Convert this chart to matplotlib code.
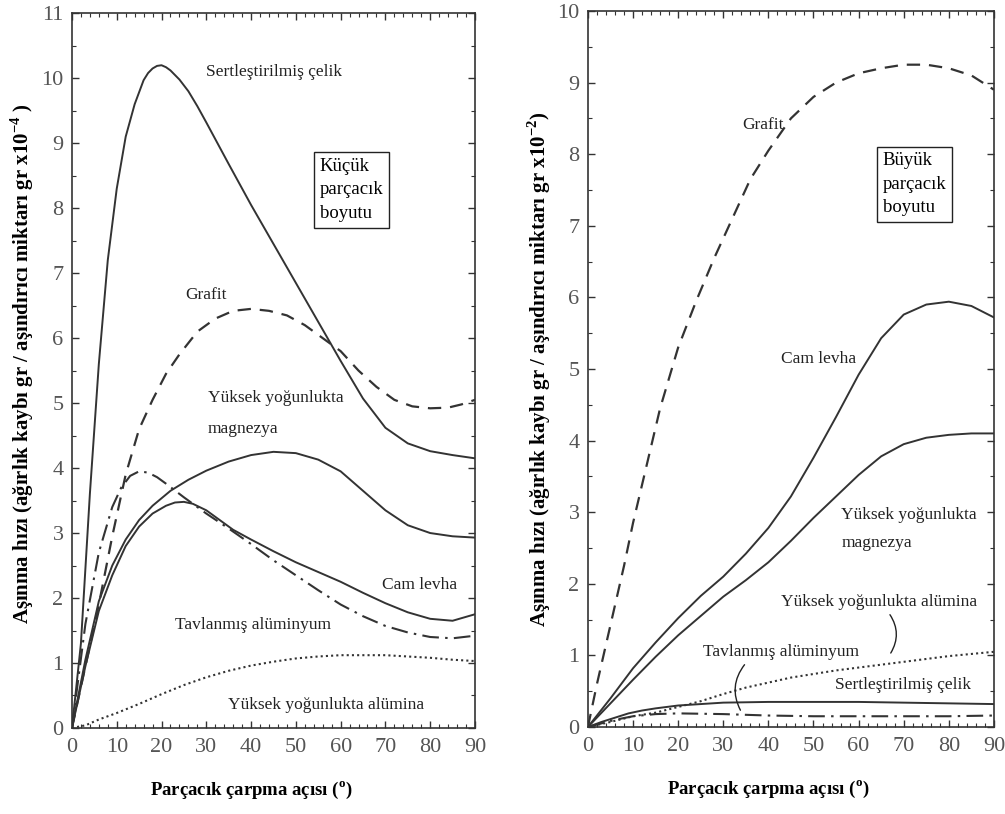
import numpy as np
import matplotlib.pyplot as plt
from matplotlib.ticker import MultipleLocator

plt.rcParams['font.family'] = ['Liberation Serif', 'DejaVu Serif']
plt.rcParams['mathtext.fontset'] = 'custom'
plt.rcParams['mathtext.rm'] = 'Liberation Serif'
plt.rcParams['mathtext.bf'] = 'Liberation Serif:bold'

# --- small particles (x10^-4) ---
cel_x = [0, 2, 4, 6, 8, 10, 12, 14, 16, 17, 18, 19, 20, 21, 22, 24, 26, 28, 30, 35, 40, 45, 50,
         55, 60, 65, 70, 75, 80, 85, 90]
cel_y = [0, 1.3, 3.6, 5.6, 7.2, 8.3, 9.1, 9.6, 9.97, 10.08, 10.15, 10.19, 10.2, 10.17, 10.12,
         9.98, 9.8, 9.57, 9.32, 8.68, 8.05, 7.45, 6.85, 6.25, 5.65, 5.07, 4.62, 4.38, 4.26, 4.2, 4.15]
gra_x = [0, 3, 6, 9, 12, 15, 18, 21, 24, 28, 32, 36, 40, 44, 48, 52, 56, 60, 64, 68, 72, 76, 80, 84, 87, 90]
gra_y = [0, 0.95, 1.9, 2.95, 3.9, 4.6, 5.05, 5.45, 5.75, 6.1, 6.3, 6.42, 6.45, 6.42, 6.35, 6.2, 6.0,
         5.8, 5.5, 5.25, 5.05, 4.95, 4.92, 4.93, 4.98, 5.05]
mag_x = [0, 3, 6, 9, 12, 15, 18, 22, 26, 30, 35, 40, 45, 50, 55, 60, 65, 70, 75, 80, 85, 90]
mag_y = [0, 1.05, 1.95, 2.5, 2.9, 3.2, 3.42, 3.65, 3.82, 3.96, 4.1, 4.2, 4.25, 4.23, 4.13, 3.95,
         3.65, 3.35, 3.12, 3.0, 2.95, 2.93]
cam_x = [0, 3, 6, 9, 12, 15, 18, 21, 23, 25, 27, 30, 33, 36, 40, 45, 50, 55, 60, 65, 70, 75, 80, 85, 90]
cam_y = [0, 0.95, 1.8, 2.35, 2.8, 3.1, 3.3, 3.42, 3.47, 3.48, 3.45, 3.35, 3.2, 3.05, 2.9, 2.72,
         2.55, 2.4, 2.25, 2.08, 1.92, 1.78, 1.68, 1.65, 1.75]
alu_x = [0, 3, 6, 9, 11, 13, 15, 17, 19, 21, 25, 30, 35, 40, 45, 50, 55, 60, 65, 70, 75, 80, 85, 90]
alu_y = [0, 1.6, 2.7, 3.4, 3.7, 3.88, 3.95, 3.93, 3.86, 3.76, 3.55, 3.3, 3.07, 2.83, 2.58, 2.35,
         2.12, 1.9, 1.72, 1.57, 1.47, 1.4, 1.38, 1.42]
alm_x = [0, 3, 6, 10, 15, 20, 25, 30, 35, 40, 45, 50, 55, 60, 65, 70, 75, 80, 85, 90]
alm_y = [0, 0.04, 0.13, 0.23, 0.37, 0.52, 0.66, 0.78, 0.88, 0.96, 1.02, 1.07, 1.1, 1.12, 1.12,
         1.12, 1.1, 1.08, 1.05, 1.03]

# --- large particles (x10^-2) ---
gra2_x = [0, 2, 4, 6, 8, 10, 13, 16, 20, 24, 28, 32, 36, 40, 45, 50, 55, 60, 65, 70, 75, 80, 85, 90]
gra2_y = [0, 0.6, 1.15, 1.7, 2.25, 2.85, 3.65, 4.45, 5.3, 5.95, 6.55, 7.1, 7.65, 8.05, 8.5, 8.8,
          9.0, 9.13, 9.2, 9.25, 9.25, 9.2, 9.1, 8.9]
cam2_x = [0, 5, 10, 15, 20, 25, 30, 35, 40, 45, 50, 55, 60, 65, 70, 75, 80, 85, 90]
cam2_y = [0, 0.4, 0.82, 1.18, 1.52, 1.83, 2.1, 2.42, 2.78, 3.22, 3.76, 4.33, 4.92, 5.43, 5.76,
          5.9, 5.94, 5.88, 5.72]
mag2_x = [0, 5, 10, 15, 20, 25, 30, 35, 40, 45, 50, 55, 60, 65, 70, 75, 80, 85, 90]
mag2_y = [0, 0.33, 0.66, 0.98, 1.28, 1.55, 1.82, 2.05, 2.3, 2.6, 2.92, 3.22, 3.52, 3.78, 3.95,
          4.04, 4.08, 4.1, 4.1]
alm2_x = [0, 5, 10, 15, 20, 25, 30, 35, 40, 45, 50, 55, 60, 65, 70, 75, 80, 85, 90]
alm2_y = [0, 0.07, 0.15, 0.2, 0.28, 0.36, 0.46, 0.55, 0.62, 0.69, 0.74, 0.79, 0.83, 0.87, 0.91,
          0.95, 0.99, 1.02, 1.05]
cel2_x = [0, 3, 6, 9, 12, 15, 20, 25, 30, 40, 50, 60, 70, 80, 90]
cel2_y = [0, 0.07, 0.13, 0.19, 0.23, 0.26, 0.3, 0.32, 0.34, 0.35, 0.35, 0.35, 0.34, 0.33, 0.32]
alu2_x = [0, 3, 6, 10, 15, 20, 30, 40, 50, 60, 70, 80, 90]
alu2_y = [0, 0.05, 0.1, 0.15, 0.18, 0.19, 0.18, 0.16, 0.15, 0.15, 0.15, 0.15, 0.16]

LC = '#333333'
SOLID = dict(color=LC, lw=1.4)
DASH = dict(color=LC, lw=1.6, linestyle=(0, (6, 4)))
DASHDOT = dict(color=LC, lw=1.5, linestyle=(0, (8, 3, 1.2, 3)))
DOT = dict(color=LC, lw=1.5, linestyle=(0, (1, 1.5)))

fig = plt.figure(figsize=(10.05, 8.14), dpi=100)
ax1 = fig.add_axes([0.0716, 0.1057, 0.401, 0.878])
ax2 = fig.add_axes([0.585, 0.1069, 0.404, 0.8796])

ax1.plot(cel_x, cel_y, **SOLID)
ax1.plot(gra_x, gra_y, **DASH)
ax1.plot(mag_x, mag_y, **SOLID)
ax1.plot(cam_x, cam_y, **SOLID)
ax1.plot(alu_x, alu_y, **DASHDOT)
ax1.plot(alm_x, alm_y, **DOT)

ax2.plot(gra2_x, gra2_y, **DASH)
ax2.plot(cam2_x, cam2_y, **SOLID)
ax2.plot(mag2_x, mag2_y, **SOLID)
ax2.plot(alm2_x, alm2_y, **DOT)
ax2.plot(cel2_x, cel2_y, **SOLID)
ax2.plot(alu2_x, alu2_y, **DASHDOT)

for ax, ymax in ((ax1, 11), (ax2, 10)):
    ax.set_xlim(0, 90)
    ax.set_ylim(0, ymax)
    ax.xaxis.set_major_locator(MultipleLocator(10))
    ax.xaxis.set_minor_locator(MultipleLocator(2))
    ax.yaxis.set_major_locator(MultipleLocator(1))
    ax.yaxis.set_minor_locator(MultipleLocator(0.5))
    ax.tick_params(which='both', direction='in', top=True, right=True, color=LC)
    ax.tick_params(which='major', length=5, width=1)
    ax.tick_params(which='minor', length=3, width=0.8)
    ax.tick_params(axis='x', pad=7, labelsize=16, labelcolor='#555555')
    ax.tick_params(axis='y', pad=6, labelsize=16, labelcolor='#555555')
    for s in ax.spines.values():
        s.set_color(LC)
        s.set_linewidth(1.2)
    ax.set_xlabel(r'Parçacık çarpma açısı ($^{\mathbf{o}}$)', fontsize=13.5, fontweight='bold')
    ax.xaxis.set_label_coords(0.445, -0.072)

ax1.set_ylabel(r'Aşınma hızı (ağırlık kaybı gr / aşındırıcı miktarı gr x10$^{\mathbf{-4}}$ )',
               fontsize=15, fontweight='bold')
ax1.yaxis.set_label_coords(-0.088, 0.51)
ax2.set_ylabel(r'Aşınma hızı (ağırlık kaybı gr / aşındırıcı miktarı gr x10$^{\mathbf{-2}}$)',
               fontsize=15, fontweight='bold')
ax2.yaxis.set_label_coords(-0.085, 0.5)

TXT = dict(fontsize=12.5, color='#222222', va='center', ha='left')
ax1.text(30, 10.1, 'Sertleştirilmiş çelik', **TXT)
ax1.text(25.2, 6.66, 'Grafit', **TXT)
ax1.text(30.4, 5.08, 'Yüksek yoğunlukta', **TXT)
ax1.text(30.4, 4.6, 'magnezya', **TXT)
ax1.text(69.2, 2.2, 'Cam levha', **TXT)
ax1.text(23, 1.58, 'Tavlanmış alüminyum', **TXT)
ax1.text(34.8, 0.35, 'Yüksek yoğunlukta alümina', **TXT)
ax1.text(55.3, 8.28, 'Küçük\nparçacık\nboyutu', fontsize=13.5, va='center', ha='left',
         linespacing=1.5, bbox=dict(boxstyle='square,pad=0.3', fc='white', ec='#222222', lw=1))

ax2.text(34.1, 8.41, 'Grafit', **TXT)
ax2.text(42.9, 5.14, 'Cam levha', **TXT)
ax2.text(56.2, 2.96, 'Yüksek yoğunlukta', **TXT)
ax2.text(56.2, 2.57, 'magnezya', **TXT)
ax2.text(42.9, 1.75, 'Yüksek yoğunlukta alümina', **TXT)
ax2.text(25.6, 1.05, 'Tavlanmış alüminyum', **TXT)
ax2.text(54.8, 0.59, 'Sertleştirilmiş çelik', **TXT)
ax2.text(65.3, 7.58, 'Büyük\nparçacık\nboyutu', fontsize=13.5, va='center', ha='left',
         linespacing=1.5, bbox=dict(boxstyle='square,pad=0.3', fc='white', ec='#222222', lw=1))

# curved leader lines
ax2.annotate('', xy=(66.8, 1.0), xytext=(66.6, 1.6),
             arrowprops=dict(arrowstyle='-', color='#222222', lw=1,
                             connectionstyle='arc3,rad=-0.35'))
ax2.annotate('', xy=(34.1, 0.2), xytext=(35.1, 0.9),
             arrowprops=dict(arrowstyle='-', color='#222222', lw=1,
                             connectionstyle='arc3,rad=0.35'))

fig.savefig('out.png', dpi=100)
